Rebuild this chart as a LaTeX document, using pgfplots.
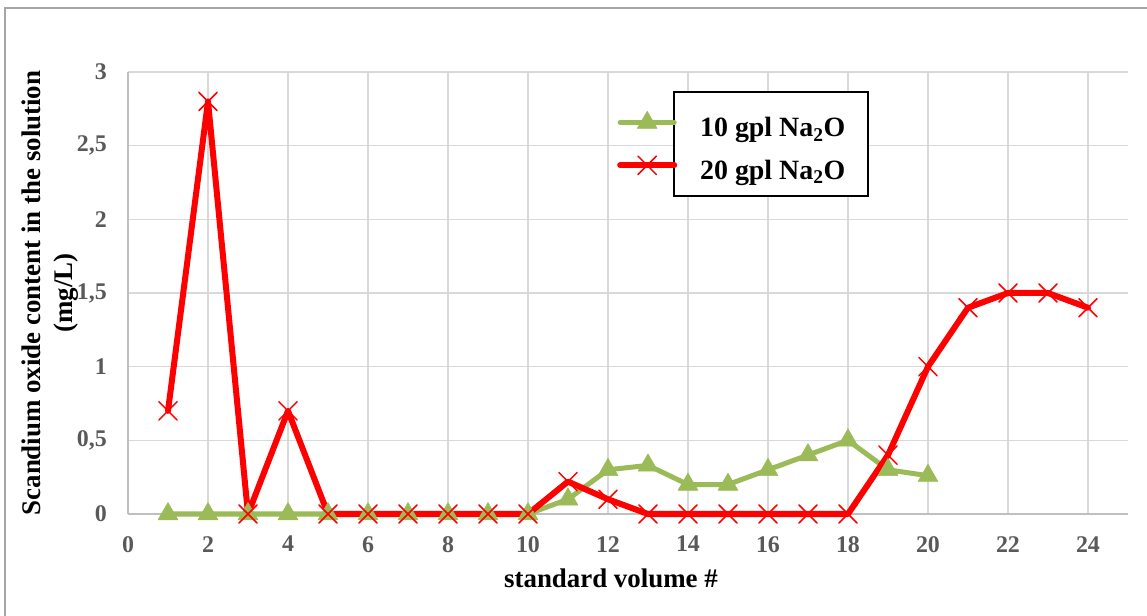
\documentclass[border=0pt]{standalone}
\usepackage{fontspec}
\setmainfont{Liberation Serif}
\usepackage{pgfplots}
\pgfplotsset{compat=1.18}
\definecolor{grn}{HTML}{9BBB59}
\definecolor{tickgray}{HTML}{595959}
\definecolor{gridgray}{HTML}{D9D9D9}
\definecolor{axgray}{HTML}{BFBFBF}
\definecolor{framegray}{HTML}{A6A6A6}
\begin{document}
\begin{tikzpicture}
\useasboundingbox (0,0) rectangle (1147bp,616bp);
\draw[framegray, line width=1.5bp] (5bp,-5bp) -- (5bp,608bp) -- (1152bp,608bp);
\begin{axis}[
  at={(128bp,102bp)}, anchor=south west,
  scale only axis, width=1000bp, height=442bp,
  xmin=0, xmax=25, ymin=0, ymax=3,
  clip=false,
  axis x line*=bottom, axis y line*=left,
  axis line style={axgray, line width=1.5bp, -},
  xtick={0,2,...,24}, ytick={0,0.5,...,3},
  grid=major, grid style={gridgray, line width=1.5bp},
  major tick length=0pt,
  /pgf/number format/assume math mode=true,
  /pgf/number format/use comma,
  tick label style={font=\fontsize{24}{28}\selectfont\bfseries, text=tickgray, inner sep=0pt},
  yticklabel style={anchor=east, xshift=-21bp, /pgf/number format/fixed},
  xticklabel style={anchor=north, yshift=-22bp},
  xlabel={standard volume \#},
  xlabel style={at={(axis description cs:0.483,-0.145)}, anchor=center, font=\fontsize{27}{33}\selectfont\bfseries},
  ylabel={Scandium oxide content in the solution\\(mg/L)},
  ylabel style={at={(axis description cs:-0.078,0.5)}, anchor=center, align=center, font=\fontsize{27}{32}\selectfont\bfseries},
  legend style={at={(axis description cs:0.489,0.9118)}, anchor=north west, draw=none, fill=none,
    font=\fontsize{28}{34}\selectfont\bfseries, inner sep=0pt, nodes={inner sep=0pt}, column sep=23bp, row sep=18bp},
  legend image code/.code={\draw[#1, mark repeat=2, mark phase=2] plot coordinates {(0bp,5bp) (27bp,5bp) (54bp,5bp)};},
  legend cell align=left,
]
\draw[black, line width=1.2bp, fill=white] (axis cs:13.65,2.158) rectangle (axis cs:18.5,2.864);
\addplot[grn, line width=5bp, line join=round, line cap=round, mark=triangle*, mark size=11.5bp, mark options={solid, line width=0.5bp}] coordinates {
(1,0) (2,0) (3,0) (4,0) (5,0) (6,0) (7,0) (8,0) (9,0) (10,0)
(11,0.1) (12,0.3) (13,0.33) (14,0.2) (15,0.2) (16,0.3) (17,0.4) (18,0.5) (19,0.3) (20,0.26)
};
\addplot[red, line width=6bp, line join=round, line cap=round, mark=x, mark size=13bp, mark options={solid, line width=1.5bp}] coordinates {
(1,0.7) (2,2.8) (3,0) (4,0.7) (5,0) (6,0) (7,0) (8,0) (9,0) (10,0)
(11,0.22) (12,0.1) (13,0) (14,0) (15,0) (16,0) (17,0) (18,0) (19,0.4) (20,1.0)
(21,1.4) (22,1.5) (23,1.5) (24,1.4)
};
\legend{10 gpl Na\textsubscript{2}O, 20 gpl Na\textsubscript{2}O}
\end{axis}
\end{tikzpicture}
\end{document}
